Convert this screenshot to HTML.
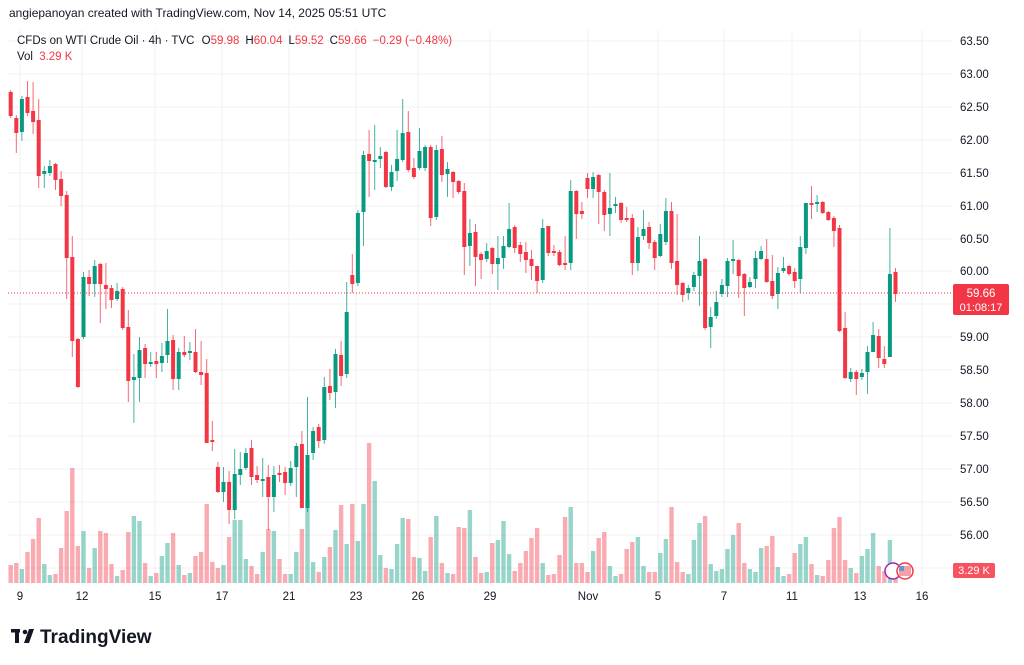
<!DOCTYPE html>
<html><head><meta charset="utf-8"><style>
html,body{margin:0;padding:0;background:#fff;width:1024px;height:665px;overflow:hidden;font-family:"Liberation Sans",sans-serif;}
svg{position:absolute;left:0;top:0}
</style></head><body>
<svg id="s" width="1024" height="665" xmlns="http://www.w3.org/2000/svg" font-family="Liberation Sans, sans-serif"></svg>
<script>
var D=[
['r',92,116,90,118],['r',118,133,115,153],['g',99,132,96,141],['r',97,113,81,116],['r',111,122,82,134],['r',120,176,99,188],['g',171,174,166,188],['g',166,173,160,176],['r',164,180,163,190],['r',179,196,171,206],
['r',195,258,191,299],['r',257,341,236,357],['r',339,387,338,388],['g',277,337,272,339],['r',277,284,270,296],['g',266,284,260,297],['r',264,284,263,323],['r',285,289,263,309],['r',288,300,285,308],['g',291,299,283,301],
['r',289,328,287,330],['r',327,381,310,402],['g',377,380,354,423],['g',350,378,337,402],['r',348,364,344,378],['g',362,364,352,367],['r',361,364,352,378],['g',356,363,343,372],['g',341,355,309,363],['r',340,379,335,390],
['g',352,379,348,390],['r',352,355,336,357],['g',351,353,342,360],['r',352,372,329,373],['r',372,375,341,385],['r',373,443,359,443],['r',440,442,421,451],['r',467,492,462,493],['g',482,492,467,502],['r',482,510,471,524],
['g',474,510,449,519],['g',469,475,452,485],['g',453,468,448,470],['r',448,477,440,485],['r',475,480,466,483],['g',479,481,458,497],['r',477,497,465,530],['g',475,497,466,512],['r',473,474,465,482],['r',472,483,467,495],
['g',468,483,461,486],['g',446,467,443,497],['r',444,508,431,508],['g',455,508,397,512],['g',431,453,427,460],['r',427,441,424,448],['g',387,440,377,444],['r',386,393,369,400],['g',354,392,349,408],['r',355,376,341,386],
['g',312,374,282,378],['r',275,284,254,293],['g',213,283,210,286],['g',155,212,151,246],['r',154,161,130,197],['g',160,161,125,190],['g',156,159,147,168],['r',152,187,151,188],['g',172,187,165,191],['g',159,171,130,181],
['g',133,160,99,162],['r',132,170,111,172],['r',168,177,158,179],['g',151,168,128,170],['g',147,168,145,171],['r',147,218,145,226],['g',150,217,145,220],['r',149,175,136,182],['g',169,174,162,197],['r',172,182,171,198],
['r',181,192,180,194],['r',191,247,183,275],['g',233,246,219,266],['r',232,257,224,286],['r',254,260,252,279],['g',251,259,243,262],['r',248,264,247,274],['g',258,264,236,290],['g',246,258,236,269],['g',229,247,203,248],
['r',227,248,225,253],['r',245,254,242,262],['r',252,260,242,273],['r',259,266,250,280],['r',266,281,266,293],['g',228,280,219,283],['r',226,253,226,256],['r',251,252,245,256],['r',252,265,250,266],['r',263,265,236,270],
['g',191,263,180,270],['r',191,214,190,239],['r',211,214,202,219],['r',178,189,173,198],['g',177,189,172,198],['r',175,192,174,224],['r',192,215,190,231],['g',208,214,173,236],['g',204,206,197,213],['r',203,220,202,223],
['r',218,220,207,222],['r',218,263,214,275],['g',237,263,227,271],['g',229,236,210,240],['r',227,243,222,249],['r',242,258,240,270],['g',234,256,224,257],['g',211,242,198,245],['r',211,263,202,269],['r',261,285,214,295],
['r',283,295,282,302],['g',288,293,285,300],['g',275,287,272,291],['g',261,276,236,306],['r',259,328,258,330],['g',317,327,307,348],['g',302,316,291,319],['g',285,294,279,297],['g',261,286,258,297],['g',259,260,240,274],
['r',260,276,259,298],['r',274,288,273,316],['g',282,287,277,288],['g',258,279,251,288],['g',251,259,246,260],['r',259,282,239,283],['r',281,296,255,299],['g',273,294,267,309],['g',268,271,257,273],['r',266,274,265,276],
['r',272,281,268,288],['g',247,279,236,293],['g',203,248,203,254],['r',203,205,186,219],['g',202,204,195,212],['r',202,213,201,214],['r',212,220,211,221],['r',218,231,216,247],['r',228,331,225,332],['r',328,378,312,379],
['g',372,379,368,382],['r',372,379,370,395],['g',373,377,369,380],['g',352,372,346,394],['g',335,352,322,352],['r',336,358,329,368],['r',359,364,346,368],['g',274,357,228,357],['r',272,294,268,302]];
var V=[18,20,14,31,44,65,19,8,9,35,72,115,37,52,15,35,52,50,19,7,13,51,67,62,20,7,10,27,40,50,18,8,10,27,31,79,21,15,18,46,63,63,24,17,9,31,54,52,24,9,9,31,54,84,21,11,26,36,53,78,39,79,42,79,140,102,28,15,14,39,65,64,26,25,12,46,67,20,10,9,
56,55,73,26,10,11,40,43,62,29,12,20,32,45,55,20,8,9,28,66,76,20,20,11,32,45,51,17,7,9,34,41,46,17,11,11,30,44,76,21,11,9,43,60,67,19,12,14,34,48,60,20,14,11,35,37,47,16,7,9,30,39,46,19,8,7,23,55,66,23,15,10,27,34,50,17,12,43,10];
var o='';
// grid
var prices=[[63.5,41],[63,74],[62.5,107],[62,140],[61.5,173],[61,206],[60.5,239],[60,271],[59.5,304],[59,337],[58.5,370],[58,403],[57.5,436],[57,469],[56.5,502],[56,535]];
prices.forEach(function(p){o+='<line x1="8" x2="952" y1="'+p[1]+'" y2="'+p[1]+'" stroke="#f2f2f2" stroke-width="1"/>';});
o+='<line x1="8" x2="952" y1="568" y2="568" stroke="#f2f2f2"/>';
var dates=[['9',20],['12',82],['15',155],['17',222],['21',289],['23',356],['26',418],['29',490],['Nov',588],['5',658],['7',724],['11',792],['13',860],['16',922]];
dates.forEach(function(d){o+='<line x1="'+d[1]+'" x2="'+d[1]+'" y1="30" y2="585" stroke="#f2f2f2"/>';});
// volumes
for(var i=0;i<D.length;i++){var x=10.7+i*5.6;var h=V[i]||10;var c=D[i][0]=='g'?'rgba(8,153,129,0.42)':'rgba(242,54,69,0.42)';
o+='<rect x="'+(x-2.2).toFixed(1)+'" y="'+(583-h)+'" width="4.4" height="'+h+'" fill="'+c+'"/>';}
// candles
for(var i=0;i<D.length;i++){var d=D[i];var x=10.7+i*5.6;var c=d[0]=='g'?'#089981':'#f23645';
o+='<line x1="'+x.toFixed(1)+'" x2="'+x.toFixed(1)+'" y1="'+d[3]+'" y2="'+d[4]+'" stroke="'+c+'" stroke-width="1" opacity="0.75"/>';
var bh=Math.max(2,d[2]-d[1]);o+='<rect x="'+(x-2).toFixed(1)+'" y="'+d[1]+'" width="4" height="'+bh+'" fill="'+c+'"/>';}
// price line
o+='<line x1="8" x2="952" y1="293" y2="293" stroke="#f23645" stroke-width="1" stroke-dasharray="1,2"/>';
// axes text
prices.forEach(function(p){if(p[0]==59.5)return;o+='<text x="960" y="'+(p[1]+4)+'" font-size="11.5" fill="#131722">'+p[0].toFixed(2)+'</text>';});
dates.forEach(function(d){o+='<text x="'+d[1]+'" y="600" font-size="11.5" fill="#131722" text-anchor="middle">'+d[0]+'</text>';});
o+='<rect x="953" y="284" width="56" height="31" rx="2" fill="#f23645"/>';
o+='<text x="981" y="297" font-size="11.5" fill="#fff" text-anchor="middle">59.66</text><text x="981" y="311" font-size="11" fill="#fff" text-anchor="middle">01:08:17</text>';
o+='<rect x="953" y="563" width="42" height="15" rx="2" fill="#f7525f"/><text x="974" y="574" font-size="11" fill="#fff" text-anchor="middle">3.29 K</text>';
// header
o+='<text x="9" y="17" font-size="12" fill="#131722">angiepanoyan created with TradingView.com, Nov 14, 2025 05:51 UTC</text>';
o+='<text x="17" y="44" font-size="11.5" fill="#131722">CFDs on WTI Crude Oil · 4h · TVC <tspan dx="4">O</tspan><tspan fill="#f23645">59.98</tspan><tspan dx="6">H</tspan><tspan fill="#f23645">60.04</tspan><tspan dx="6">L</tspan><tspan fill="#f23645">59.52</tspan><tspan dx="6">C</tspan><tspan fill="#f23645">59.66</tspan><tspan dx="6" fill="#f23645">−0.29 (−0.48%)</tspan></text>';
o+='<text x="17" y="60" font-size="11.5" fill="#131722">Vol <tspan dx="3" fill="#f23645">3.29 K</tspan></text>';
// event icons
o+='<circle cx="893" cy="571" r="8" fill="#fff" stroke="#9c27b0" stroke-width="1.5"/><circle cx="905" cy="571" r="8" fill="#fff" stroke="#f23645" stroke-width="1.5"/><rect x="899" y="566" width="12" height="10" fill="#f7a0a8"/><rect x="899" y="566" width="5" height="5" fill="#5b9bd5"/>';
// logo
o+='<rect x="11" y="629" width="9" height="3.5" fill="#131722"/><rect x="15" y="629" width="4" height="14" fill="#131722"/><circle cx="25" cy="632" r="2.3" fill="#131722"/><polygon points="29,629 34,629 29,643 24,643" fill="#131722"/>';
o+='<text x="40" y="643" font-size="19" font-weight="bold" fill="#131722">TradingView</text>';
document.getElementById('s').innerHTML=o;
</script>
</body></html>
